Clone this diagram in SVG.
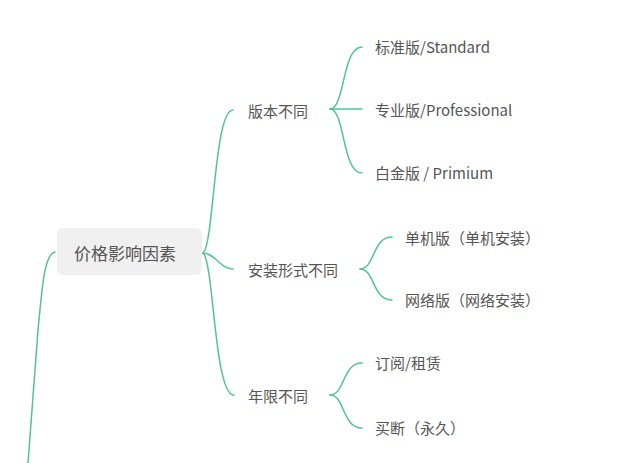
<svg xmlns="http://www.w3.org/2000/svg" width="640" height="463" viewBox="0 0 640 463">
<style>
.c{fill:none;stroke:#52c493;stroke-width:1.5;stroke-linecap:round}
.t{font-family:"Noto Sans CJK SC","Liberation Sans",sans-serif;font-size:15px;fill:#555;dominant-baseline:central}
.r{font-family:"Noto Sans CJK SC","Liberation Sans",sans-serif;font-size:17px;fill:#555;dominant-baseline:central;text-anchor:middle}
</style>
<rect width="640" height="463" fill="#fff"/>
<g id="connectors">
<path class="c" d="M55,252 C44,254 42,290 38,330 L28,463"/>
<path class="c" d="M203,253 C214,245 214,110 233,110"/>
<path class="c" d="M203,253 C215,253 220,269 233,269"/>
<path class="c" d="M203,253 C214,262 214,395 234,395"/>
<path class="c" d="M330,109 C345,109 342,47 362,47"/>
<path class="c" d="M330,109 L362,109"/>
<path class="c" d="M330,109 C345,109 342,173 362,173"/>
<path class="c" d="M360,269 C375,269 372,237 392,237"/>
<path class="c" d="M360,269 C375,269 372,300 392,300"/>
<path class="c" d="M330,395 C345,395 342,363 362,363"/>
<path class="c" d="M330,395 C345,395 342,428 362,428"/>
</g>
<g id="root">
<rect x="57" y="228" width="145" height="47" rx="6" fill="#f0f0f0"/>
<text class="r" x="125" y="252">价格影响因素</text>
</g>
<g id="n1"><text class="t" x="248" y="110">版本不同</text></g>
<g id="n2"><text class="t" x="248" y="269">安装形式不同</text></g>
<g id="n3"><text class="t" x="248" y="395">年限不同</text></g>
<g id="n11"><text class="t" x="375" y="46">标准版/Standard</text></g>
<g id="n12"><text class="t" x="375" y="109">专业版/Professional</text></g>
<g id="n13"><text class="t" x="375" y="172">白金版 / Primium</text></g>
<g id="n21"><text class="t" x="405" y="237">单机版（单机安装）</text></g>
<g id="n22"><text class="t" x="405" y="299">网络版（网络安装）</text></g>
<g id="n31"><text class="t" x="375" y="362">订阅/租赁</text></g>
<g id="n32"><text class="t" x="375" y="427">买断（永久）</text></g>
</svg>
